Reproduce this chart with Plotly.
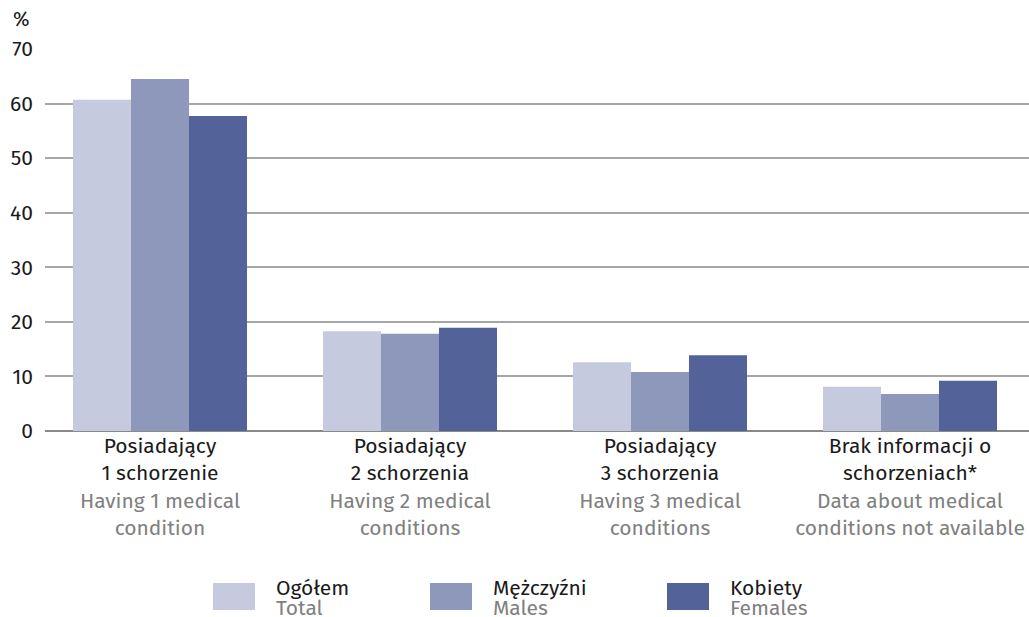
import plotly.graph_objects as go

categories_pl = ["Posiadający<br>1 schorzenie", "Posiadający<br>2 schorzenia",
                 "Posiadający<br>3 schorzenia", "Brak informacji o<br>schorzeniach*"]
categories_en = ["Having 1 medical<br>condition", "Having 2 medical<br>conditions",
                 "Having 3 medical<br>conditions", "Data about medical<br>conditions not available"]
series_pl = ["Ogółem", "Mężczyźni", "Kobiety"]
series_en = ["Total", "Males", "Females"]
total = [60.7, 18.3, 12.6, 8.1]
males = [64.5, 17.8, 10.8, 6.8]
females = [57.7, 18.9, 13.9, 9.2]
y_ticks = [0, 10, 20, 30, 40, 50, 60, 70]

colors = ["#c5cade", "#8d98bb", "#536399"]
grey_text = "#808080"
font_family = "Fira Sans, Noto Sans, sans-serif"
fs = 21

tick_text = [f"{pl}<br><span style='color:{grey_text}'>{en}</span>"
             for pl, en in zip(categories_pl, categories_en)]
x_idx = list(range(len(categories_pl)))

fig = go.Figure()
for name, vals, col in zip(series_pl, [total, males, females], colors):
    fig.add_trace(go.Bar(x=x_idx, y=vals, name=name, marker=dict(color=col, line=dict(width=0)),
                         showlegend=False))

fig.update_layout(
    width=1029, height=617,
    margin=dict(l=45, r=0, t=49, b=186),
    paper_bgcolor="white", plot_bgcolor="white",
    barmode="group", bargap=0.304, bargroupgap=0,
    font=dict(family=font_family, size=fs, color="#1a1a1a"),
    xaxis=dict(range=[-0.46, 3.476], tickmode="array", tickvals=x_idx, ticktext=tick_text,
               showgrid=False, zeroline=False, showline=False, ticks="",
               tickfont=dict(size=fs)),
    yaxis=dict(range=[0, 70], tickmode="array", tickvals=y_ticks, showgrid=True,
               gridcolor="#a6a6a6", gridwidth=1.5, zeroline=True, zerolinecolor="#8a8a8a",
               zerolinewidth=2, ticks="", ticklabelstandoff=11, tickfont=dict(size=fs)),
)

fig.add_annotation(text="%", xref="paper", yref="paper", x=(11 - 45) / 984, y=1, yshift=16,
                   xanchor="left", yanchor="bottom", showarrow=False, font=dict(size=fs - 1))

# Legend drawn as swatches and two-line labels beneath the plot
def py(px):
    return -(px - 431) / 382

legend_x = [213, 430, 667]
for lx, col, pl, en in zip(legend_x, colors, series_pl, series_en):
    fig.add_shape(type="rect", xref="paper", yref="paper",
                  x0=(lx - 45) / 984, x1=(lx + 42 - 45) / 984,
                  y0=py(610), y1=py(583),
                  fillcolor=col, line=dict(width=0))
    fig.add_annotation(text=pl, xref="paper", yref="paper", x=(lx + 61 - 45) / 984,
                       y=py(588), xanchor="left", yanchor="middle", align="left",
                       showarrow=False, font=dict(size=fs))
    fig.add_annotation(text=en, xref="paper", yref="paper", x=(lx + 61 - 45) / 984,
                       y=py(608), xanchor="left", yanchor="middle", align="left",
                       showarrow=False, font=dict(size=fs, color=grey_text))

fig.write_html("out.html")
